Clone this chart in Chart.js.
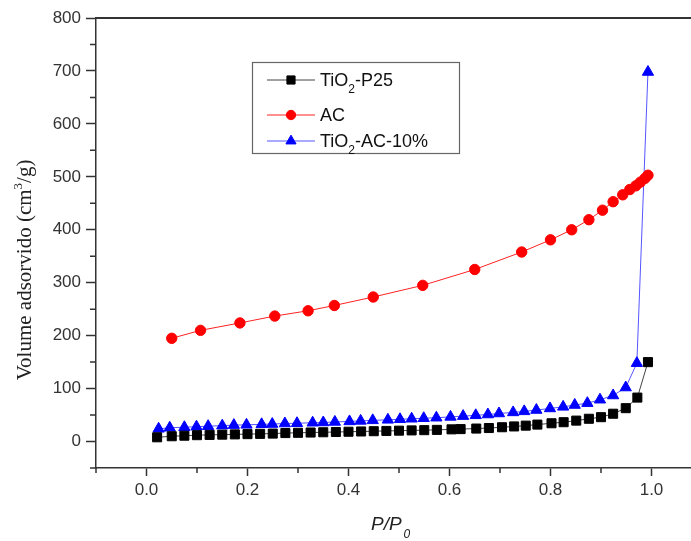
<!DOCTYPE html>
<html>
<head>
<meta charset="utf-8">
<script src="https://cdn.jsdelivr.net/npm/chart.js@4/dist/chart.umd.min.js"></script>
<style>
  html, body { margin:0; padding:0; background:#fff; overflow:hidden; }
  #wrap { width:691px; height:541px; overflow:hidden; position:relative; }
  canvas { display:block; }
</style>
</head>
<body>
<div id="wrap"><canvas id="chart" width="712" height="541"></canvas></div>
<script>
// tick labels
const xTicks = [0, 0.2, 0.4, 0.6, 0.8, 1.0];
const yTicks = [0, 100, 200, 300, 400, 500, 600, 700, 800];

// TiO2-P25
const p25X = [0.021,0.05,0.075,0.10,0.125,0.15,0.175,0.20,0.225,0.25,0.275,0.30,0.325,0.35,0.375,0.40,0.425,0.45,0.475,0.50,
              0.525,0.55,0.575,0.604,0.622,0.653,0.678,0.704,0.728,0.751,0.774,0.802,0.826,0.851,0.876,0.90,0.924,0.949,0.972,0.993];
const p25Y = [8,10,11,12,12.5,13,13.5,14,14.5,15,16,16.5,17,17.5,18,18.5,19,19.5,20,20.5,
              21,21.5,22,23,23.5,24.5,25.5,27,28.5,30,32,34.5,36.5,39.5,43,46,52.5,63,83,150];

// AC
const acX = [0.05,0.107,0.185,0.254,0.320,0.372,0.449,0.547,0.650,0.743,0.800,0.842,0.876,0.903,0.924,0.943,0.957,0.969,0.978,0.987,0.993];
const acY = [195,210,224,237,247,257,273,295,325,358,381,400,419,437,453,466,476,483,490,497,503];

// TiO2-AC-10%
const tacX = [0.024,0.046,0.075,0.099,0.122,0.150,0.173,0.198,0.228,0.249,0.274,0.298,0.329,0.350,0.373,0.402,0.424,0.448,0.478,0.502,
              0.525,0.549,0.574,0.602,0.627,0.652,0.676,0.698,0.726,0.748,0.772,0.799,0.825,0.848,0.873,0.898,0.924,0.949,0.971,0.993];
const tacY = [24,26,27,28,29,30,31,31.5,32.5,33,34,34.5,35.5,36,37,38,39,40,41,42,
              43,44,45,46.5,48,49.5,51,53,55,57,59.5,62.5,65.5,69,72.5,79,87,102,148,698];

// legend text pieces: [normal, subscript, normal]
const legendParts = [["TiO","2","-P25"], ["AC","",""], ["TiO","2","-AC-10%"]];

const pts = (xs, ys) => xs.map((x,i) => ({x, y: ys[i]}));
const SANS = "'Liberation Sans', Arial, sans-serif";
const SERIF = "'Liberation Serif', 'Times New Roman', serif";
const AXIS = "#333";

const series = [
  {label:"TiO\u2082-P25", data:pts(p25X,p25Y), borderColor:"#444", backgroundColor:"#000", pointStyle:"rect", pointRadius:6.4},
  {label:"AC", data:pts(acX,acY), borderColor:"#f22", backgroundColor:"#f00", pointStyle:"circle", pointRadius:5.2},
  {label:"TiO\u2082-AC-10%", data:pts(tacX,tacY), borderColor:"#55f", backgroundColor:"#00f", pointStyle:"triangle", pointRadius:6.5}
];

const extras = {
  id:"extras",
  afterDraw(chart){
    const {ctx, chartArea:a, scales:{x, y}} = chart;
    ctx.save();
    // top frame line
    ctx.strokeStyle = AXIS; ctx.lineWidth = 2;
    ctx.beginPath(); ctx.moveTo(a.left-1, a.top); ctx.lineTo(a.right, a.top); ctx.stroke();
    // minor ticks
    ctx.lineWidth = 1.5;
    ctx.beginPath();
    for(let i=0;i<xTicks.length;i++){
      const v = xTicks[i]-0.1, px = x.getPixelForValue(v);
      ctx.moveTo(px, a.bottom); ctx.lineTo(px, a.bottom+5);
    }
    for(let i=0;i<yTicks.length;i++){
      const py = y.getPixelForValue(yTicks[i]-50);
      ctx.moveTo(a.left, py); ctx.lineTo(a.left-6, py);
    }
    ctx.stroke();

    // x title P/P0
    ctx.fillStyle = "#222";
    ctx.textBaseline = "alphabetic"; ctx.textAlign = "left";
    ctx.font = "italic 19px " + SANS;
    ctx.fillText("P/P", 371, 530);
    const w1 = ctx.measureText("P/P").width;
    ctx.font = "italic 12px " + SANS;
    ctx.fillText("0", 371+w1+2, 538);

    // y title
    ctx.save();
    ctx.translate(31, 270);
    ctx.rotate(-Math.PI/2);
    ctx.font = "21px " + SERIF;
    const a1 = "Volume adsorvido (cm", a2 = "3", a3 = "/g)";
    const wa = ctx.measureText(a1).width, wc = ctx.measureText(a3).width;
    ctx.font = "13px " + SERIF;
    const wb = ctx.measureText(a2).width;
    let sx = -(wa+wb+wc)/2;
    ctx.font = "21px " + SERIF; ctx.fillText(a1, sx, 0);
    ctx.font = "13px " + SERIF; ctx.fillText(a2, sx+wa, -9);
    ctx.font = "21px " + SERIF; ctx.fillText(a3, sx+wa+wb, 0);
    ctx.restore();

    // legend box
    ctx.fillStyle = "#fff";
    ctx.fillRect(252, 62, 207, 91);
    ctx.strokeStyle = "#666"; ctx.lineWidth = 1.2;
    ctx.strokeRect(252.5, 62.5, 207, 91);
    const rowsY = [80, 115, 141];
    series.forEach((s, i) => {
      const cy = rowsY[i];
      ctx.strokeStyle = s.borderColor; ctx.lineWidth = 1;
      ctx.beginPath(); ctx.moveTo(267, cy); ctx.lineTo(315, cy); ctx.stroke();
      ctx.fillStyle = s.backgroundColor; ctx.strokeStyle = s.backgroundColor;
      Chart.helpers.drawPoint(ctx, {pointStyle:s.pointStyle, radius:s.pointRadius*0.9, rotation:0, borderWidth:1}, 291, cy);
      const [t1, t2, t3] = legendParts[i];
      ctx.fillStyle = "#111";
      ctx.font = "18px " + SANS;
      ctx.fillText(t1, 320, cy+6);
      let tx = 320 + ctx.measureText(t1).width;
      if(t2){
        ctx.font = "12px " + SANS;
        ctx.fillText(t2, tx, cy+13);
        tx += ctx.measureText(t2).width;
      }
      ctx.font = "18px " + SANS;
      ctx.fillText(t3, tx, cy+6);
    });
    ctx.restore();
  }
};

new Chart(document.getElementById("chart"), {
  type:"scatter",
  data:{ datasets: series.map(s => ({
    label:s.label, data:s.data, showLine:true,
    borderColor:s.borderColor, borderWidth:1,
    backgroundColor:s.backgroundColor, pointBackgroundColor:s.backgroundColor,
    pointBorderColor:s.backgroundColor, pointBorderWidth:1,
    pointStyle:s.pointStyle, pointRadius:s.pointRadius, tension:0
  })) },
  options:{
    responsive:false, animation:false, devicePixelRatio:1,
    layout:{ padding:{ left:0, top:18, right:10, bottom:0 } },
    plugins:{ legend:{ display:false }, tooltip:{ enabled:false } },
    scales:{
      x:{
        type:"linear", min:-0.1, max:1.1,
        afterBuildTicks: ax => { ax.ticks = xTicks.map(v => ({value:v})); },
        afterFit: ax => { ax.height = 73; },
        grid:{ drawOnChartArea:false, drawTicks:true, tickLength:8, tickColor:AXIS, tickWidth:1.5 },
        border:{ display:true, color:AXIS, width:1.5 },
        ticks:{ padding:4, color:"#333", font:{ family:SANS, size:17 }, maxRotation:0, autoSkip:false,
                callback: v => Number(v).toFixed(1) }
      },
      y:{
        type:"linear", min:-50, max:800,
        afterBuildTicks: ax => { ax.ticks = yTicks.map(v => ({value:v})); },
        afterFit: ax => { ax.width = 96; },
        grid:{ drawOnChartArea:false, drawTicks:true, tickLength:10, tickColor:AXIS, tickWidth:1.5 },
        border:{ display:true, color:AXIS, width:1.5 },
        ticks:{ padding:5, color:"#333", font:{ family:SANS, size:17 }, autoSkip:false,
                callback: v => String(v) }
      }
    }
  },
  plugins:[extras]
});
</script>
</body>
</html>
